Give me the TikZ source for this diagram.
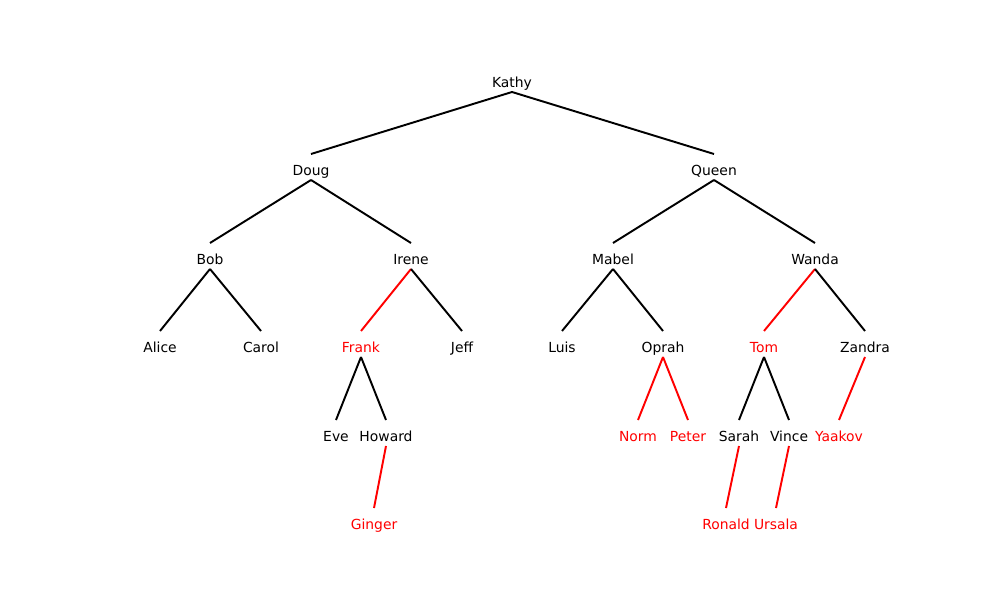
\documentclass[tikz,border=0pt]{standalone}
\usepackage{fontspec}
\setmainfont{DejaVu Sans}
\begin{document}
\begin{tikzpicture}[x=0.02cm,y=-0.02cm,
  lab/.style={inner sep=0pt,text height=0.76em,text depth=0.24em,font=\fontsize{7.9}{9}\selectfont},
  hot/.style={lab,text=red},
  edge/.style={line width=1.1pt,black},
  hedge/.style={line width=1.1pt,red}]
\useasboundingbox (0,0) rectangle (1000,594);
% level 1
\node[lab] (kathy) at (512,83) {Kathy};
% level 2
\node[lab] (doug) at (311,171) {Doug};
\node[lab] (queen) at (714,171) {Queen};
% level 3
\node[lab] (bob) at (210,260) {Bob};
\node[lab] (irene) at (411,260) {Irene};
\node[lab] (mabel) at (613,260) {Mabel};
\node[lab] (wanda) at (815,260) {Wanda};
% level 4
\node[lab] (alice) at (160,348) {Alice};
\node[lab] (carol) at (261,348) {Carol};
\node[hot] (frank) at (361,348) {Frank};
\node[lab] (jeff) at (462,348) {Jeff};
\node[lab] (luis) at (562,348) {Luis};
\node[lab] (oprah) at (663,348) {Oprah};
\node[hot] (tom) at (764,348) {Tom};
\node[lab] (zandra) at (865,348) {Zandra};
% level 5
\node[lab] (eve) at (336,437) {Eve};
\node[lab] (howard) at (386,437) {Howard};
\node[hot] (norm) at (638,437) {Norm};
\node[hot] (peter) at (688,437) {Peter};
\node[lab] (sarah) at (739,437) {Sarah};
\node[lab] (vince) at (789,437) {Vince};
\node[hot] (yaakov) at (839,437) {Yaakov};
% level 6
\node[hot] (ginger) at (374,525) {Ginger};
\node[hot] (ronald) at (726,525) {Ronald};
\node[hot] (ursala) at (776,525) {Ursala};
% edges
\newcommand{\tedge}[3]{\draw[#1] ([yshift=-0.18cm]#2.center) -- ([yshift=0.34cm]#3.center);}
\tedge{edge}{kathy}{doug}
\tedge{edge}{kathy}{queen}
\tedge{edge}{doug}{bob}
\tedge{edge}{doug}{irene}
\tedge{edge}{queen}{mabel}
\tedge{edge}{queen}{wanda}
\tedge{edge}{bob}{alice}
\tedge{edge}{bob}{carol}
\tedge{hedge}{irene}{frank}
\tedge{edge}{irene}{jeff}
\tedge{edge}{mabel}{luis}
\tedge{edge}{mabel}{oprah}
\tedge{hedge}{wanda}{tom}
\tedge{edge}{wanda}{zandra}
\tedge{edge}{frank}{eve}
\tedge{edge}{frank}{howard}
\tedge{hedge}{oprah}{norm}
\tedge{hedge}{oprah}{peter}
\tedge{edge}{tom}{sarah}
\tedge{edge}{tom}{vince}
\tedge{hedge}{zandra}{yaakov}
\tedge{hedge}{howard}{ginger}
\tedge{hedge}{sarah}{ronald}
\tedge{hedge}{vince}{ursala}
\end{tikzpicture}
\end{document}
